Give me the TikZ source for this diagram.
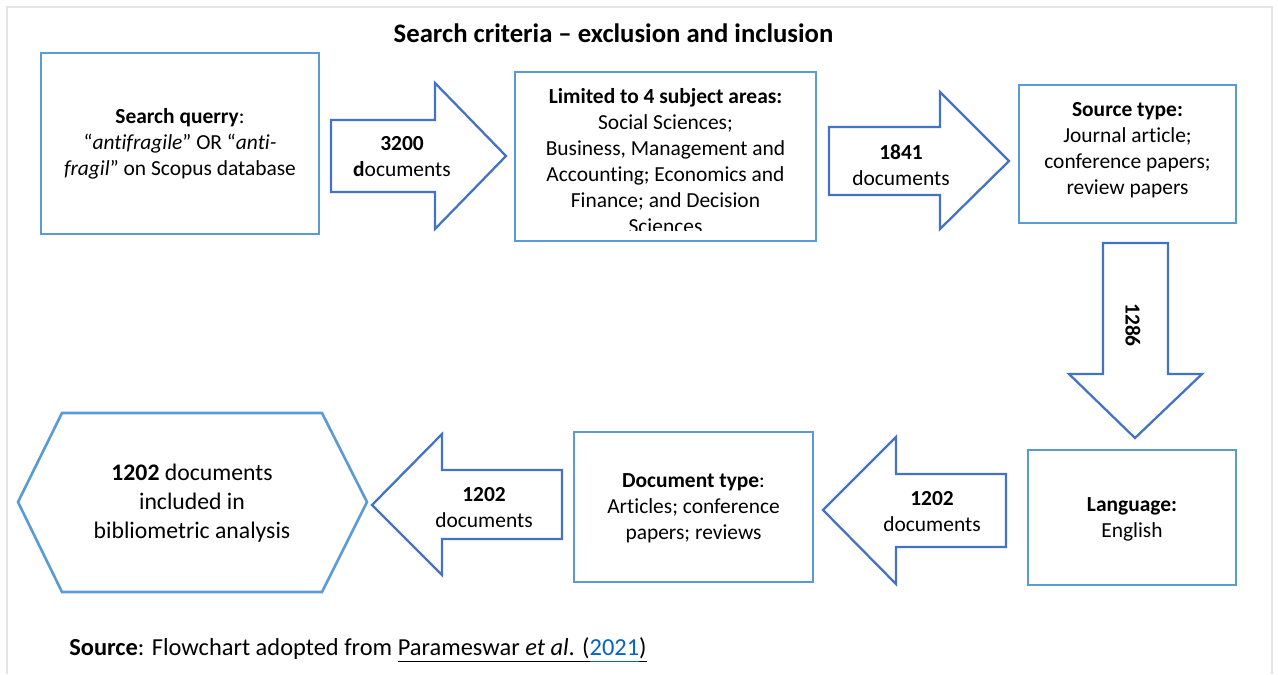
\documentclass[tikz,border=0pt]{standalone}
\usepackage{fontspec}
\setmainfont[Ligatures={TeX,NoCommon}]{Carlito}
\definecolor{boxblue}{HTML}{5B9BD5}
\definecolor{arrowblue}{HTML}{4472C4}
\definecolor{linkblue}{HTML}{0563C1}
\definecolor{framegray}{HTML}{E4E4E4}
% underline with one depth for every piece
\newcommand{\refline}[1]{\underline{#1\vphantom{(}}}
\begin{document}
\begin{tikzpicture}[x=0.02cm,y=-0.02cm]
\tikzstyle{every node}+=[inner sep=0pt, align=center, font=\fontsize{12.2}{14.8}\selectfont]
\tikzstyle{box}=[draw=boxblue, line width=1.5pt]
\tikzstyle{blockarrow}=[draw=arrowblue, line width=1.3pt, line join=miter]
\useasboundingbox (0,0) rectangle (1278,674);
\draw[framegray, line width=0.8pt] (7,674) -- (7,7) -- (1272,7) -- (1272,674);

\node (title) [anchor=base, font=\fontsize{15.2}{18}\selectfont\bfseries] at (613.5,42) {Search criteria -- exclusion and inclusion};

\node (srch) [box, minimum width=5.56cm, minimum height=3.62cm] at (180,143.5) {\textbf{Search querry}:\\ ``\textit{antifragile}'' OR ``\textit{anti-}\\ \textit{fragil}'' on Scopus database};
\node (subj) [box, minimum width=6.02cm, minimum height=3.38cm] at (665.5,156.5) {};
\node (srctype) [box, minimum width=4.34cm, minimum height=2.76cm] at (1127.5,154) {};
\node (lang) [box, minimum width=4.16cm, minimum height=2.7cm] at (1132,517.5) {};
\node (doctype) [box, minimum width=4.78cm, minimum height=3cm] at (693.5,507) {};
\draw[box] (18,502) -- (62,413) -- (322,413) -- (367,502) -- (322,592) -- (62,592) -- cycle;
\node (incl) [font=\fontsize{13.5}{16.6}\selectfont] at (192,503) {\textbf{1202} documents\\ included in\\ bibliometric analysis};

% subject areas run past the bottom of their box
\begin{scope}
\clip (515,72) rectangle (816,230);
\node (subjtxt) [anchor=base] at (665.5,233.5) {\textbf{Limited to 4 subject areas:}\\ Social Sciences;\\ Business, Management and\\ Accounting; Economics and\\ Finance; and Decision\\ Sciences};
\end{scope}
\node (srctxt) at (1127.5,150) {\textbf{Source type:}\\ Journal article;\\ conference papers;\\ review papers};
\node (langtxt) at (1132,519) {\textbf{Language:}\\ English};
\node (doctxt) at (693.5,508) {\textbf{Document type}:\\ Articles; conference\\ papers; reviews};

\draw[blockarrow] (331,120) -- (435,120) -- (435,83) -- (506,156) -- (435,229) -- (435,192) -- (331,192) -- cycle;
\draw[blockarrow] (829,127) -- (940,127) -- (940,92) -- (1009,161) -- (940,229) -- (940,195) -- (829,195) -- cycle;
\draw[blockarrow] (1103,243) -- (1168,243) -- (1168,374) -- (1202,374) -- (1135,438) -- (1069,374) -- (1103,374) -- cycle;
\draw[blockarrow] (1006,474) -- (896,474) -- (896,437) -- (823,510) -- (896,584) -- (896,547) -- (1006,547) -- cycle;
\draw[blockarrow] (562,470) -- (442,470) -- (442,434) -- (372,505) -- (442,575) -- (442,539) -- (562,539) -- cycle;

\node (n3200) at (402,157) {\textbf{3200}\\ \textbf{d}ocuments};
\node (n1841) at (901,165) {\textbf{1841}\\ documents};
\node (n1286) [rotate=-90] at (1133,325) {\textbf{1286}};
\node (n1202a) at (932,511.5) {\textbf{1202}\\ documents};
\node (n1202b) at (484,507.5) {\textbf{1202}\\ documents};

\node (srcnote) [anchor=base west, align=left, font=\fontsize{13.9}{16.6}\selectfont] at (69,655) {\textbf{Source}: Flowchart adopted from \refline{Parameswar \textit{et al}. (}{\color{linkblue}\refline{2021}}\refline{)}};

\end{tikzpicture}
\end{document}
